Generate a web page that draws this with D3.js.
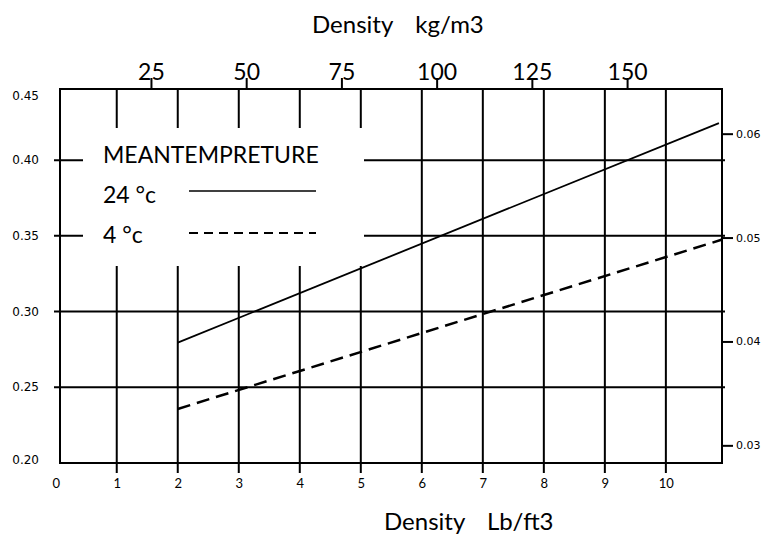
<!DOCTYPE html>
<html>
<head>
	<script src="https://cdn.jsdelivr.net/npm/d3@7/dist/d3.min.js"></script>
	<style>
		body { margin: 0; background: white; }
	</style>
</head>
<body>
	<script>

		// ---------------- data ----------------

		var lbTicks    = [0, 1, 2, 3, 4, 5, 6, 7, 8, 9, 10];
		var kgTicks    = [25, 50, 75, 100, 125, 150];
		var leftTicks  = [0.20, 0.25, 0.30, 0.35, 0.40, 0.45];
		var rightTicks = [0.03, 0.04, 0.05, 0.06];

		// density (lb/ft3), conductivity
		var mean24 = [[2, 0.2795], [10.87, 0.4245]];
		var mean4  = [[2, 0.2357], [10.91, 0.3474]];

		var legendTitle  = "MEANTEMPRETURE";
		var legendLabels = ["24 °c", "4 °c"];

		var LB_TO_KG = 16.018;

		// ---------------- layout ----------------

		var width = 764, height = 535;
		var frame = { left: 60, right: 722, top: 89, bottom: 463 };

		var svg = d3.select("body").append("svg")
			.attr("width", width)
			.attr("height", height);

		var x = d3.scaleLinear()
			.domain([0.07, 10.92])
			.range([frame.left, frame.right]);

		var xKg = d3.scaleLinear()
			.domain(x.domain().map(function(d) { return d * LB_TO_KG; }))
			.range(x.range());

		var y = d3.scaleLinear()
			.domain([0.20, 0.447])
			.range([frame.bottom, frame.top]);

		var yRight = d3.scaleLinear()
			.domain([0.0283, 0.0643])
			.range([frame.bottom, frame.top]);

		var labelFont = "Lato, 'Open Sans', sans-serif";
		var smallFont = "'DejaVu Sans', Verdana, sans-serif";

		// ---------------- grid ----------------

		var grid = svg.append("g")
			.attr("stroke", "black")
			.attr("stroke-width", 2);

		// vertical lines, running past the bottom border as ticks
		grid.selectAll(".vgrid")
			.data(lbTicks.filter(function(d) { return d > 0; }))
			.enter().append("line")
			.attr("x1", function(d) { return x(d); })
			.attr("x2", function(d) { return x(d); })
			.attr("y1", frame.top)
			.attr("y2", frame.bottom + 10);

		// horizontal lines, running past the left border as ticks
		grid.selectAll(".hgrid")
			.data(leftTicks.filter(function(d) { return d > 0.2 && d < 0.45; }))
			.enter().append("line")
			.attr("x1", frame.left - 6)
			.attr("x2", frame.right + 3)
			.attr("y1", function(d) { return y(d); })
			.attr("y2", function(d) { return y(d); });

		// ---------------- axes ----------------

		// bottom: lb/ft3 labels only (ticks come from the grid)
		var bottomAxis = svg.append("g")
			.attr("transform", "translate(0," + frame.bottom + ")")
			.call(d3.axisBottom(x).tickValues(lbTicks).tickSize(0).tickPadding(16)
				.tickFormat(d3.format("d")));
		bottomAxis.select(".domain").remove();
		bottomAxis.selectAll("text")
			.attr("font-family", labelFont)
			.attr("font-size", 13)
			.attr("fill", "black");

		// top: kg/m3
		var topAxis = svg.append("g")
			.attr("transform", "translate(0," + frame.top + ")")
			.call(d3.axisTop(xKg).tickValues(kgTicks).tickSize(11).tickPadding(-2));
		topAxis.select(".domain").remove();
		topAxis.selectAll("line").attr("stroke", "black").attr("stroke-width", 2);
		topAxis.selectAll("text")
			.attr("font-family", labelFont)
			.attr("font-size", 23)
			.attr("fill", "black");

		// right: second conductivity scale
		var rightAxis = svg.append("g")
			.attr("transform", "translate(" + frame.right + ",0)")
			.call(d3.axisRight(yRight).tickValues(rightTicks).tickSize(11).tickPadding(3)
				.tickFormat(d3.format(".2f")));
		rightAxis.select(".domain").remove();
		rightAxis.selectAll("line").attr("stroke", "black").attr("stroke-width", 2);
		rightAxis.selectAll("text")
			.attr("font-family", smallFont)
			.attr("font-size", 11)
			.attr("fill", "black");

		// left: labels pulled inside the frame at both ends
		svg.append("g").selectAll("text")
			.data(leftTicks)
			.enter().append("text")
			.attr("x", frame.left - 21)
			.attr("y", function(d) {
				return Math.min(Math.max(y(d), frame.top + 7), frame.bottom - 3);
			})
			.attr("text-anchor", "end")
			.attr("dominant-baseline", "central")
			.attr("font-family", smallFont)
			.attr("font-size", 12)
			.text(d3.format(".2f"));

		// ---------------- legend box (covers the grid) ----------------

		svg.append("rect")
			.attr("x", 83)
			.attr("y", 128)
			.attr("width", 281)
			.attr("height", 138)
			.attr("fill", "white");

		// ---------------- data lines ----------------

		var line = d3.line()
			.x(function(d) { return x(d[0]); })
			.y(function(d) { return y(d[1]); });

		svg.append("path")
			.datum(mean24)
			.attr("d", line)
			.attr("fill", "none")
			.attr("stroke", "black")
			.attr("stroke-width", 1.8);

		svg.append("path")
			.datum(mean4)
			.attr("d", line)
			.attr("fill", "none")
			.attr("stroke", "black")
			.attr("stroke-width", 2.5)
			.attr("stroke-dasharray", "13,7");

		// ---------------- frame ----------------

		svg.append("rect")
			.attr("x", frame.left)
			.attr("y", frame.top)
			.attr("width", frame.right - frame.left)
			.attr("height", frame.bottom - frame.top)
			.attr("fill", "none")
			.attr("stroke", "black")
			.attr("stroke-width", 2);

		// ---------------- legend ----------------

		var legend = svg.append("g")
			.attr("font-family", labelFont)
			.attr("font-size", 23)
			.attr("fill", "black");

		legend.append("text")
			.attr("x", 103)
			.attr("y", 163)
			.text(legendTitle);

		legend.selectAll(".lab")
			.data(legendLabels)
			.enter().append("text")
			.attr("x", 103)
			.attr("y", function(d, i) { return 203 + i * 40; })
			.text(function(d) { return d; });

		legend.selectAll(".key")
			.data(legendLabels)
			.enter().append("line")
			.attr("x1", 189)
			.attr("x2", 316)
			.attr("y1", function(d, i) { return 191 + i * 42; })
			.attr("y2", function(d, i) { return 191 + i * 42; })
			.attr("stroke", "black")
			.attr("stroke-width", function(d, i) { return i ? 2.2 : 1.6; })
			.attr("stroke-dasharray", function(d, i) { return i ? "9,6" : null; });

		// ---------------- titles ----------------

		var topTitle = svg.append("text")
			.attr("x", 312)
			.attr("y", 33)
			.attr("font-family", labelFont)
			.attr("font-size", 24);
		topTitle.append("tspan").text("Density");
		topTitle.append("tspan").attr("dx", 22).text("kg/m3");

		var bottomTitle = svg.append("text")
			.attr("x", 384)
			.attr("y", 530)
			.attr("font-family", labelFont)
			.attr("font-size", 24);
		bottomTitle.append("tspan").text("Density");
		bottomTitle.append("tspan").attr("dx", 22).text("Lb/ft3");

	</script>
</body>
</html>
